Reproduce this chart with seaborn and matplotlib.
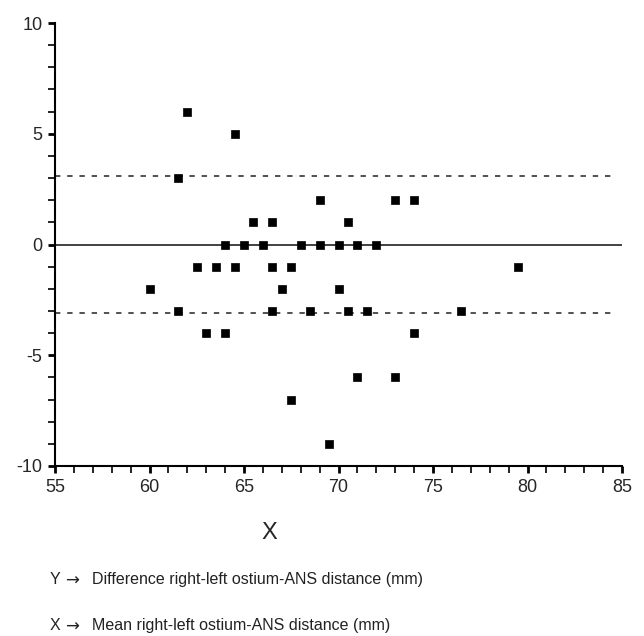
import numpy as np
import pandas as pd
import seaborn as sns
import matplotlib.pyplot as plt
from matplotlib.ticker import MultipleLocator

# mean of right/left ostium-ANS distance (mm)
mean_dist = [60, 61.5, 61.5, 62, 62.5, 63, 63.5, 64, 64, 64.5, 64.5, 65, 65.5,
             66, 66.5, 66.5, 66.5, 67, 67.5, 67.5, 68, 68.5, 69, 69, 69.5, 70,
             70, 70.5, 70.5, 71, 71, 71.5, 72, 73, 73, 74, 74, 76.5, 79.5]
# difference right - left (mm)
diff_dist = [-2, 3, -3, 6, -1, -4, -1, 0, -4, 5, -1, 0, 1,
             0, 1, -1, -3, -2, -1, -7, 0, -3, 2, 0, -9, 0,
             -2, 1, -3, 0, -6, -3, 0, 2, -6, 2, -4, -3, -1]
upper_loa = 3.1
lower_loa = -3.1

captions = [("Y", "Difference right-left ostium-ANS distance (mm)"),
            ("X", "Mean right-left ostium-ANS distance (mm)")]

df = pd.DataFrame({"X": mean_dist, "Y": diff_dist})

sns.set_style("ticks")
plt.rcParams['font.family'] = ['Liberation Sans', 'DejaVu Sans']
plt.rcParams['axes.unicode_minus'] = False

fig = plt.figure(figsize=(6.44, 6.36), dpi=100)
ax = fig.add_axes([55/644, 1-466/636, 567/644, 443/636])

ax.axhline(0, color="#333333", lw=1.3, zorder=1)
ax.plot([55, 84.6], [upper_loa, upper_loa], color="#222222", lw=1.1,
        ls=(0, (3.5, 4.5)), zorder=1)
ax.plot([55, 84.6], [lower_loa, lower_loa], color="#222222", lw=1.1,
        ls=(0, (3.5, 4.5)), zorder=1)

sns.scatterplot(data=df, x="X", y="Y", marker="s", s=30, color="black",
                edgecolor="black", linewidth=0.5, ax=ax, zorder=3)

ax.set_xlim(55, 85)
ax.set_ylim(-10, 10)
ax.xaxis.set_major_locator(MultipleLocator(5))
ax.xaxis.set_minor_locator(MultipleLocator(1))
ax.yaxis.set_major_locator(MultipleLocator(5))
ax.yaxis.set_minor_locator(MultipleLocator(1))
ax.tick_params(which="both", direction="out", length=5, width=1.2,
               color="black", labelsize=13, pad=4)
ax.tick_params(which="major", width=2)
ax.set_xlabel("")
ax.set_ylabel("")
sns.despine(ax=ax)
for sp in ["left", "bottom"]:
    ax.spines[sp].set_linewidth(1.5)
    ax.spines[sp].set_color("black")

fig.text(269/644, 1-533/636, "X", fontsize=17, ha="center", va="center")
for i, (var, desc) in enumerate(captions):
    yy = 1 - (584 + 46 * i) / 636
    fig.text(50/644, yy, var, fontsize=11.5, ha="left", va="baseline",
             color="#222222")
    fig.text(65/644, yy - 1.5/636, "\u2192", fontsize=12, ha="left",
             va="baseline", color="#222222", family="DejaVu Sans")
    fig.text(92/644, yy, desc, fontsize=11.5, ha="left", va="baseline",
             color="#222222")

plt.savefig("out.png", dpi=100)
